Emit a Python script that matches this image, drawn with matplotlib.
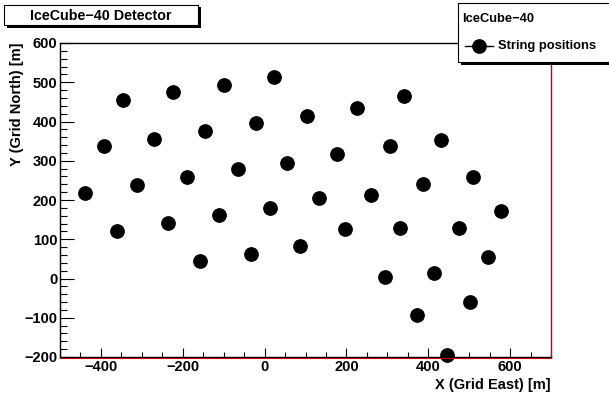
import matplotlib
matplotlib.use("Agg")
import matplotlib.pyplot as plt
from matplotlib.patches import Rectangle
from matplotlib.lines import Line2D
from matplotlib.ticker import MultipleLocator

plt.rcParams['font.family'] = ['Liberation Sans', 'DejaVu Sans']
plt.rcParams['font.weight'] = 'bold'

x_east = [-438, -393, -347, -360, -313, -270, -225, -235, -189, -145,
          -100, -157, -112, -66, -22, 23, -33, 13, 56, 103,
          86, 133, 176, 226, 341, 197, 259, 306, 432, 332,
          386, 509, 578, 475, 295, 413, 547, 503, 373, 445]
y_north = [218, 337, 454, 122, 239, 356, 474, 141, 258, 376,
           493, 44, 161, 278, 395, 513, 63, 180, 295, 415,
           82, 204, 318, 435, 466, 126, 212, 337, 354, 128,
           242, 259, 172, 129, 5, 13, 56, -59, -94, -196]

title_text = "IceCube\u221240 Detector"
legend_header = "IceCube\u221240"
series_label = "String positions"
x_label = "X (Grid East) [m]"
y_label = "Y (Grid North) [m]"

W, H = 609, 394
fig = plt.figure(figsize=(W / 100, H / 100), dpi=100)

def fx(px):
    return px / W

def fy(py):
    return 1 - py / H

L, R, T, B = 60, 551, 43, 357
ax = fig.add_axes([fx(L), fy(B), (R - L) / W, (B - T) / H])
ax.plot(x_east, y_north, 'o', color='black', markersize=9.6, zorder=3, clip_on=False)
ax.set_xlim(-500, 700)
ax.set_ylim(-200, 600)

ax.xaxis.set_major_locator(MultipleLocator(200))
ax.xaxis.set_minor_locator(MultipleLocator(50))
ax.yaxis.set_major_locator(MultipleLocator(100))
ax.yaxis.set_minor_locator(MultipleLocator(20))
ax.tick_params(axis='both', which='both', direction='in', top=False, right=False,
               labelsize=10.5, width=0.8, colors='black')
ax.tick_params(axis='y', which='major', length=10, pad=2)
ax.tick_params(axis='y', which='minor', length=5)
ax.tick_params(axis='x', which='major', length=6.5, pad=2.5)
ax.tick_params(axis='x', which='minor', length=3.6)
for lab in ax.get_xticklabels() + ax.get_yticklabels():
    lab.set_fontweight('bold')

for s in ['top', 'left', 'bottom']:
    ax.spines[s].set_color('black')
    ax.spines[s].set_linewidth(1.0)
ax.spines['right'].set_color('#cc0000')
ax.spines['right'].set_linewidth(1.0)
# red frame line just beneath the bottom axis
fig.add_artist(Line2D([fx(L), fx(R)], [fy(B + 1.2), fy(B + 1.2)], color='#cc0000', lw=0.8))

fig.text(fx(17), fy(42), y_label, rotation=90, ha='center', va='top',
         fontsize=10.5, fontweight='bold')
fig.text(fx(R), fy(384.5), x_label, ha='right', va='center', fontsize=10.5, fontweight='bold')

# Title box with shadow
fig.add_artist(Rectangle((fx(6.5), fy(27.5)), (198 - 4) / W, (25 - 5) / H,
                         facecolor='black', edgecolor='none', zorder=10))
fig.add_artist(Rectangle((fx(4), fy(25)), (198 - 4) / W, (25 - 5) / H,
                         facecolor='white', edgecolor='black', lw=0.8, zorder=11))
fig.text(fx(101), fy(15.5), title_text, ha='center', va='center', fontsize=10.3,
         fontweight='bold', zorder=12)

# Legend box with shadow
fig.add_artist(Rectangle((fx(461), fy(65)), (612 - 458) / W, (62 - 3) / H,
                         facecolor='black', edgecolor='none', zorder=10))
fig.add_artist(Rectangle((fx(458), fy(62)), (612 - 458) / W, (62 - 3) / H,
                         facecolor='white', edgecolor='black', lw=0.8, zorder=11))
fig.text(fx(462), fy(19), legend_header, ha='left', va='center', fontsize=9.3,
         fontweight='bold', zorder=12)
fig.add_artist(Line2D([fx(465), fx(493)], [fy(46), fy(46)], color='black', lw=1.0,
                      marker=None, zorder=12))
fig.add_artist(Line2D([fx(479)], [fy(46)], color='black', marker='o', markersize=9.6,
                      linestyle='none', zorder=13))
fig.text(fx(498), fy(45.5), series_label, ha='left', va='center', fontsize=9.4,
         fontweight='bold', zorder=12)

fig.savefig("out.png", dpi=100, facecolor='white')
